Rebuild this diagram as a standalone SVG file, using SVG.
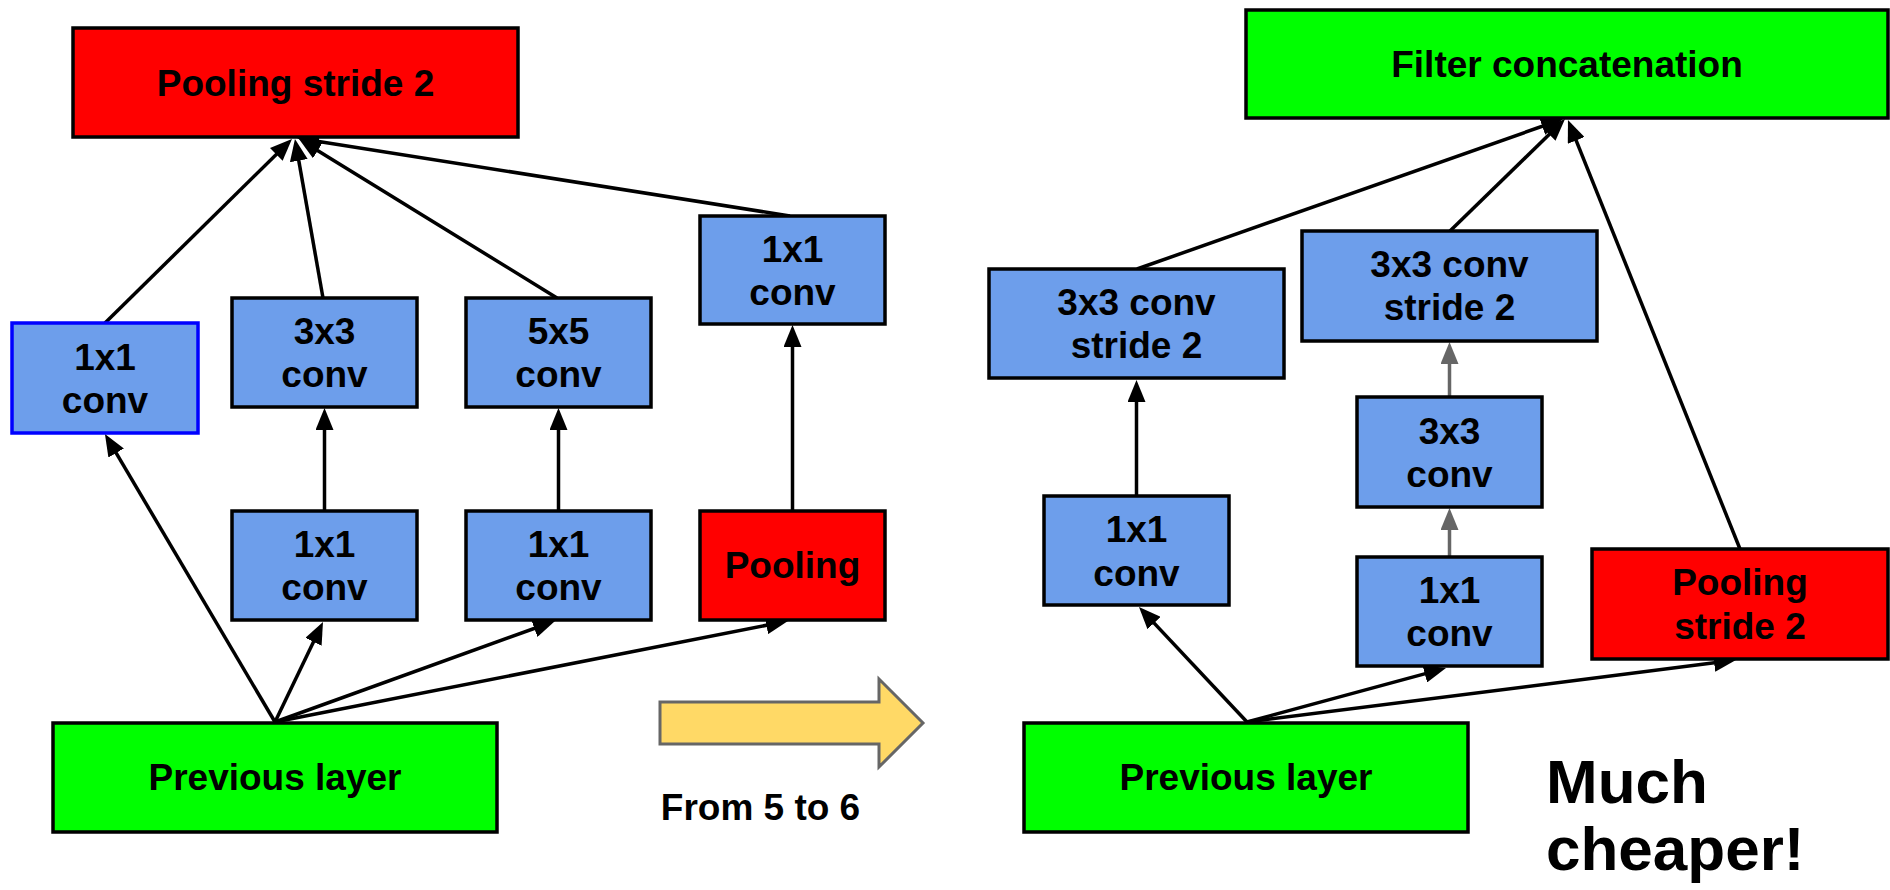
<svg xmlns="http://www.w3.org/2000/svg" width="1890" height="890" viewBox="0 0 1890 890">
  <style>
    .box { stroke: #000; stroke-width: 3.5; }
    .blue { fill: #6d9eeb; }
    .red { fill: #ff0000; }
    .green { fill: #00ff00; }
    .lbl { font-family: "Liberation Sans", Arial, sans-serif; font-weight: bold; font-size: 37px; fill: #000; text-anchor: middle; }
    .edge { fill: none; stroke: #000; stroke-width: 3.5; marker-end: url(#head); }
    .edge.grey { stroke: #666666; marker-end: url(#headGrey); }
    .plain { fill: none; stroke: #000; stroke-width: 3.5; }
  </style>
  <defs>
    <marker id="head" markerUnits="userSpaceOnUse" markerWidth="22" markerHeight="18" viewBox="0 0 22 18" refX="16" refY="9" orient="auto">
      <path d="M0,0 L22,9 L0,18 z" fill="#000"/>
    </marker>
    <marker id="headGrey" markerUnits="userSpaceOnUse" markerWidth="22" markerHeight="18" viewBox="0 0 22 18" refX="16" refY="9" orient="auto">
      <path d="M0,0 L22,9 L0,18 z" fill="#666666"/>
    </marker>
  </defs>
  <rect width="1890" height="890" fill="#fff"/>

  <!-- connectors -->
  <g id="connectors">
    <!-- left module -->
    <path class="edge" d="M275,722 L108,439.2"/>
    <path class="edge" d="M275,722 L320.4,627.4"/>
    <path class="edge" d="M275,722 L549.4,623"/>
    <path class="edge" d="M275,722 L782.1,622.2"/>
    <path class="edge" d="M324.5,511 L324.5,414"/>
    <path class="edge" d="M558.5,511 L558.5,414"/>
    <path class="edge" d="M792.5,511 L792.5,331"/>
    <path class="edge" d="M105,323 L287.7,143.2"/>
    <path class="edge" d="M323,298 L296,144.9"/>
    <path class="edge" d="M557,298 L304.1,142.2"/>
    <path class="edge" d="M790,216 L302.9,138.9"/>
    <!-- right module -->
    <path class="edge" d="M1247,722 L1143.1,611.4"/>
    <path class="edge" d="M1247,722 L1440.2,669.6"/>
    <path class="edge" d="M1247,722 L1730,660.8"/>
    <path class="edge" d="M1136.5,496 L1136.5,386"/>
    <path class="edge grey" d="M1449.5,557 L1449.5,514"/>
    <path class="edge grey" d="M1449.5,397 L1449.5,348"/>
    <path class="edge" d="M1137,269 L1557.3,121"/>
    <path class="edge" d="M1450,231 L1560.7,123.2"/>
    <path class="edge" d="M1740,549 L1570.2,125.6"/>
  </g>

  <!-- left module nodes -->
  <g id="pool-top">
    <rect class="box red" x="73" y="28" width="445" height="109"/>
    <text class="lbl" x="295.5" y="96">Pooling stride 2</text>
  </g>
  <g id="conv1x1-a">
    <rect class="blue" x="12" y="323" width="186" height="110" stroke="#0000ff" stroke-width="3.5"/>
    <text class="lbl" x="105" y="370">1x1</text>
    <text class="lbl" x="105" y="413">conv</text>
  </g>
  <g id="conv3x3-a">
    <rect class="box blue" x="232" y="298" width="185" height="109"/>
    <text class="lbl" x="324.5" y="344">3x3</text>
    <text class="lbl" x="324.5" y="387">conv</text>
  </g>
  <g id="conv5x5-a">
    <rect class="box blue" x="466" y="298" width="185" height="109"/>
    <text class="lbl" x="558.5" y="344">5x5</text>
    <text class="lbl" x="558.5" y="387">conv</text>
  </g>
  <g id="conv1x1-b">
    <rect class="box blue" x="700" y="216" width="185" height="108"/>
    <text class="lbl" x="792.5" y="262">1x1</text>
    <text class="lbl" x="792.5" y="305">conv</text>
  </g>
  <g id="conv1x1-c">
    <rect class="box blue" x="232" y="511" width="185" height="109"/>
    <text class="lbl" x="324.5" y="557">1x1</text>
    <text class="lbl" x="324.5" y="600">conv</text>
  </g>
  <g id="conv1x1-d">
    <rect class="box blue" x="466" y="511" width="185" height="109"/>
    <text class="lbl" x="558.5" y="557">1x1</text>
    <text class="lbl" x="558.5" y="600">conv</text>
  </g>
  <g id="pool-a">
    <rect class="box red" x="700" y="511" width="185" height="109"/>
    <text class="lbl" x="792.5" y="578">Pooling</text>
  </g>
  <g id="prev-a">
    <rect class="box green" x="53" y="723" width="444" height="109"/>
    <text class="lbl" x="275" y="790">Previous layer</text>
  </g>

  <!-- transition arrow -->
  <g id="transition">
    <polygon points="660,702 879,702 879,679 923,723 879,767 879,744 660,744" fill="#ffd966" stroke="#666666" stroke-width="3"/>
    <text class="lbl" x="760.5" y="820">From 5 to 6</text>
  </g>

  <!-- right module nodes -->
  <g id="concat">
    <rect class="box green" x="1246" y="10" width="642" height="108"/>
    <text class="lbl" x="1567" y="77">Filter concatenation</text>
  </g>
  <g id="conv3x3s2-a">
    <rect class="box blue" x="989" y="269" width="295" height="109"/>
    <text class="lbl" x="1136.5" y="315">3x3 conv</text>
    <text class="lbl" x="1136.5" y="358">stride 2</text>
  </g>
  <g id="conv3x3s2-b">
    <rect class="box blue" x="1302" y="231" width="295" height="110"/>
    <text class="lbl" x="1449.5" y="277">3x3 conv</text>
    <text class="lbl" x="1449.5" y="320">stride 2</text>
  </g>
  <g id="conv3x3-b">
    <rect class="box blue" x="1357" y="397" width="185" height="110"/>
    <text class="lbl" x="1449.5" y="444">3x3</text>
    <text class="lbl" x="1449.5" y="487">conv</text>
  </g>
  <g id="conv1x1-e">
    <rect class="box blue" x="1357" y="557" width="185" height="109"/>
    <text class="lbl" x="1449.5" y="603">1x1</text>
    <text class="lbl" x="1449.5" y="646">conv</text>
  </g>
  <g id="conv1x1-f">
    <rect class="box blue" x="1044" y="496" width="185" height="109"/>
    <text class="lbl" x="1136.5" y="542">1x1</text>
    <text class="lbl" x="1136.5" y="586">conv</text>
  </g>
  <g id="pool-s2">
    <rect class="box red" x="1592" y="549" width="296" height="110"/>
    <text class="lbl" x="1740" y="595">Pooling</text>
    <text class="lbl" x="1740" y="639">stride 2</text>
  </g>
  <g id="prev-b">
    <rect class="box green" x="1024" y="723" width="444" height="109"/>
    <text class="lbl" x="1246" y="790">Previous layer</text>
  </g>

  <g id="note">
    <text x="1546" y="803" font-family="'Liberation Sans', Arial, sans-serif" font-weight="bold" font-size="62" fill="#000">Much</text>
    <text x="1546" y="870" font-family="'Liberation Sans', Arial, sans-serif" font-weight="bold" font-size="62" fill="#000">cheaper!</text>
  </g>
</svg>
